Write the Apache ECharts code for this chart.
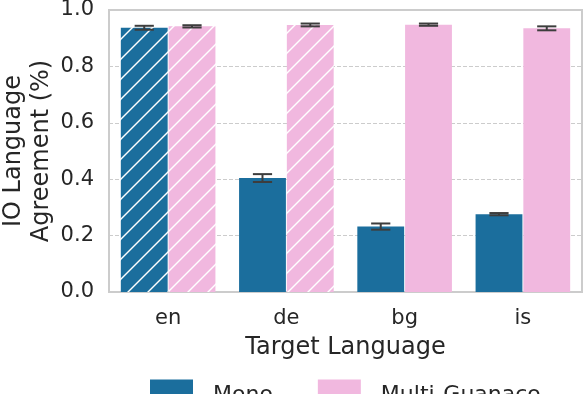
<!DOCTYPE html>
<html>
<head>
<meta charset="utf-8">
<script src="https://cdn.jsdelivr.net/npm/echarts@6/dist/echarts.min.js"></script>
<style>html,body{margin:0;padding:0;background:#fff}#c{width:584px;height:394px}</style>
</head>
<body>
<div id="c"></div>
<script>
const categories = ['en', 'de', 'bg', 'is'];
const monoValues = [0.937, 0.404, 0.232, 0.276];
const monoErr = [0.007, 0.014, 0.011, 0.004];
const multiValues = [0.942, 0.947, 0.948, 0.935];
const multiErr = [0.004, 0.005, 0.004, 0.007];
const monoHatched = [true, false, false, false];
const multiHatched = [true, true, false, false];
const yTicks = [0, 0.2, 0.4, 0.6, 0.8, 1.0];

const MONO_COLOR = '#1b6e9d';
const MULTI_COLOR = '#f1b8df';
const FONT = 'DejaVu Sans';
const TEXT = '#262626';

function hatch(bg) {
  const s = 20;
  const cv = document.createElement('canvas');
  cv.width = s; cv.height = s;
  const ctx = cv.getContext('2d');
  ctx.fillStyle = bg; ctx.fillRect(0, 0, s, s);
  ctx.strokeStyle = '#ffffff'; ctx.lineWidth = 1.4;
  [0, s, 2 * s].forEach(k => {
    ctx.beginPath(); ctx.moveTo(k + 2, -2); ctx.lineTo(k - s - 2, s + 2); ctx.stroke();
  });
  return { image: cv, repeat: 'repeat' };
}

function barData(vals, flags, color) {
  return vals.map((v, i) => flags[i] ? { value: v, itemStyle: { color: hatch(color) } } : v);
}

function errData(vals, errs) {
  return vals.map((v, i) => [i, v - errs[i], v + errs[i]]);
}

function errRender(side) {
  return function (params, api) {
    const idx = api.value(0);
    const lo = api.coord([idx, api.value(1)]);
    const hi = api.coord([idx, api.value(2)]);
    const band = api.size([1, 0])[0];
    const w = band * 0.8 / 2.02;
    const x = lo[0] + side * (w / 2 + w * 0.01);
    const cap = w * 0.41;
    const st = { stroke: '#3d3d3d', lineWidth: 2 };
    return {
      type: 'group',
      children: [
        { type: 'line', shape: { x1: x, y1: lo[1], x2: x, y2: hi[1] }, style: st },
        { type: 'line', shape: { x1: x - cap / 2, y1: lo[1], x2: x + cap / 2, y2: lo[1] }, style: st },
        { type: 'line', shape: { x1: x - cap / 2, y1: hi[1], x2: x + cap / 2, y2: hi[1] }, style: st }
      ]
    };
  };
}

const chart = echarts.init(document.getElementById('c'), null, { renderer: 'canvas' });
chart.setOption({
  animation: false,
  textStyle: { fontFamily: FONT },
  grid: {
    left: 109, right: 2, top: 10, bottom: 102, show: true,
    borderColor: '#cccccc', borderWidth: 2, backgroundColor: 'transparent',
    containLabel: false, outerBoundsMode: 'none'
  },
  legend: {
    data: ['Mono', 'Multi-Guanaco'],
    left: 150, top: 368, padding: 0,
    itemWidth: 43, itemHeight: 15, itemGap: 45,
    icon: 'rect',
    formatter: name => '{t|' + name + '}',
    textStyle: {
      fontFamily: FONT, fontSize: 22, color: TEXT,
      rich: { t: { fontFamily: FONT, fontSize: 22, lineHeight: 22, color: TEXT, padding: [16, 0, 0, 15] } }
    }
  },
  xAxis: {
    type: 'category',
    data: categories,
    axisLine: { show: false },
    axisTick: { show: false },
    axisLabel: { fontFamily: FONT, fontSize: 21, color: TEXT, margin: 16 },
    name: 'Target Language',
    nameLocation: 'middle',
    nameGap: 44,
    nameMoveOverlap: false,
    nameTextStyle: { fontFamily: FONT, fontSize: 24, color: TEXT }
  },
  yAxis: {
    type: 'value',
    min: yTicks[0], max: yTicks[yTicks.length - 1], interval: 0.2,
    axisLine: { show: false },
    axisTick: { show: false },
    axisLabel: { fontFamily: FONT, fontSize: 21, color: TEXT, margin: 15, formatter: v => v.toFixed(1) },
    splitLine: { lineStyle: { color: '#cccccc', type: [4, 2], width: 1 } },
    name: 'IO Language\nAgreement (%)',
    nameLocation: 'middle',
    nameGap: 53,
    nameMoveOverlap: false,
    nameTextStyle: { fontFamily: FONT, fontSize: 24, color: TEXT, lineHeight: 28 }
  },
  series: [
    {
      name: 'Mono', type: 'bar', data: barData(monoValues, monoHatched, MONO_COLOR),
      itemStyle: { color: MONO_COLOR }, barCategoryGap: '20%', barGap: '2%'
    },
    {
      name: 'Multi-Guanaco', type: 'bar', data: barData(multiValues, multiHatched, MULTI_COLOR),
      itemStyle: { color: MULTI_COLOR }, barCategoryGap: '20%', barGap: '2%'
    },
    {
      name: 'monoErr', type: 'custom', data: errData(monoValues, monoErr), renderItem: errRender(-1),
      encode: { x: 0, y: [1, 2] }, z: 10, silent: true
    },
    {
      name: 'multiErr', type: 'custom', data: errData(multiValues, multiErr), renderItem: errRender(1),
      encode: { x: 0, y: [1, 2] }, z: 10, silent: true
    }
  ]
});
</script>
</body>
</html>
